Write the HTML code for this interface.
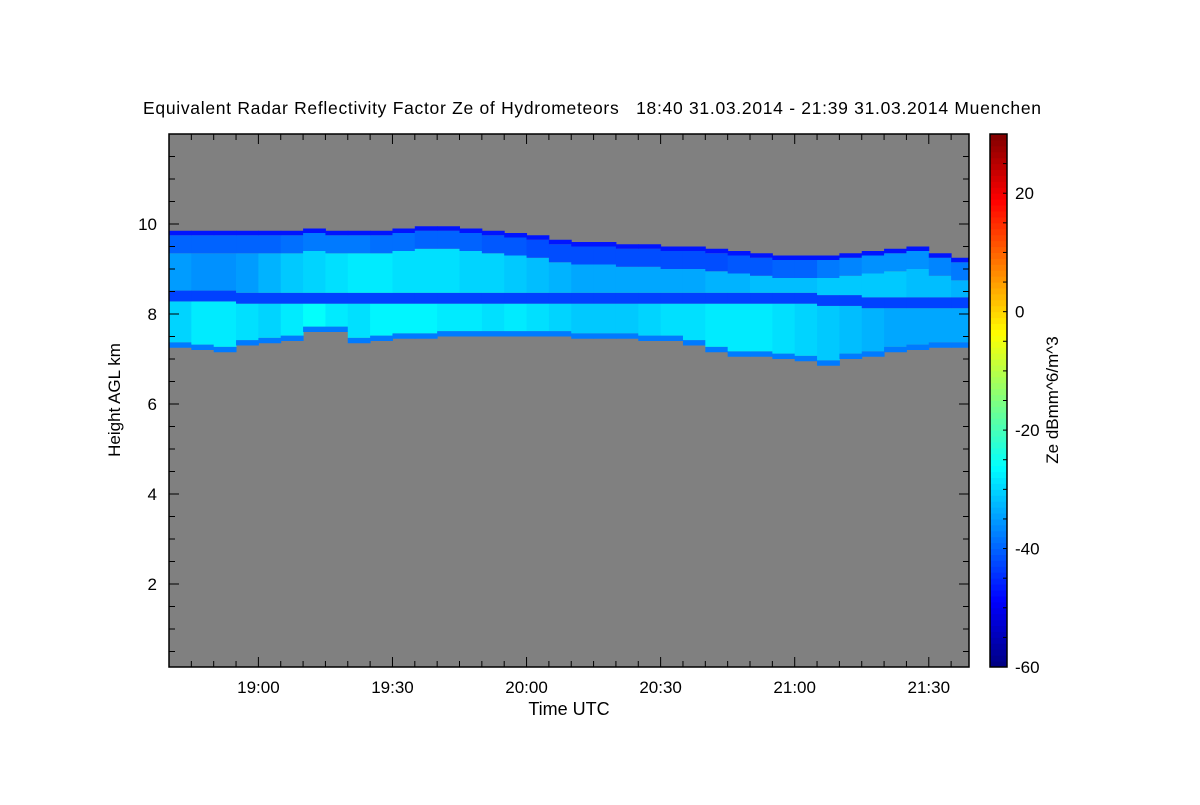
<!DOCTYPE html>
<html><head><meta charset="utf-8"><style>
body{margin:0;background:#fff;}
svg text{font-family:"Liberation Sans",sans-serif;fill:#000;}
</style></head><body>
<svg id="c" width="1200" height="800"></svg>
<script>
// data: per 5-minute column starting 18:40
const times = [];for(let i=0;i<36;i++)times.push(i*5);
const tops = [9.85,9.85,9.85,9.85,9.85,9.85,9.9,9.85,9.85,9.85,9.9,9.95,9.95,9.9,9.85,9.8,9.75,9.65,9.6,9.6,9.55,9.55,9.5,9.5,9.45,9.4,9.35,9.3,9.3,9.3,9.35,9.4,9.45,9.5,9.35,9.25];
const bottoms = [7.25,7.2,7.15,7.3,7.35,7.4,7.6,7.6,7.35,7.4,7.45,7.45,7.5,7.5,7.5,7.5,7.5,7.5,7.45,7.45,7.45,7.4,7.4,7.3,7.15,7.05,7.05,7.0,6.95,6.85,7.0,7.05,7.15,7.2,7.25,7.25];
const lowerZe = [-30,-28,-28,-29,-30,-28,-26,-28,-29,-27,-27,-27,-28,-28,-29,-28,-29,-30,-31,-31,-31,-30,-29,-29,-28,-28,-28,-29,-30,-31,-32,-33,-34,-34,-34,-34];
const bandH = [8.4,8.4,8.4,8.35,8.35,8.35,8.35,8.35,8.35,8.35,8.35,8.35,8.35,8.35,8.35,8.35,8.35,8.35,8.35,8.35,8.35,8.35,8.35,8.35,8.35,8.35,8.35,8.35,8.35,8.3,8.3,8.25,8.25,8.25,8.25,8.25];
const midZe = [-35,-36,-36,-35,-33,-31,-30,-29,-28,-28,-29,-29,-29,-30,-30,-31,-32,-33,-34,-34,-34,-34,-34,-34,-33,-33,-32,-32,-32,-31,-31,-31,-31,-32,-32,-33];
const topZe = [-40,-40,-40,-40,-40,-39,-38,-38,-38,-39,-39,-40,-40,-40,-41,-41,-42,-42,-42,-42,-42,-42,-42,-42,-42,-41,-41,-40,-40,-38,-37,-36,-36,-36,-37,-38];
const yTicks=[2,4,6,8,10];
const xTickLabels=["19:00","19:30","20:00","20:30","21:00","21:30"];
const xTickMins=[20,50,80,110,140,170];
const cbTicks=[-60,-40,-20,0,20];

const NS="http://www.w3.org/2000/svg";
const svg=document.getElementById('c');
function el(t,a,p){const e=document.createElementNS(NS,t);for(const k in a)e.setAttribute(k,a[k]);(p||svg).appendChild(e);return e;}
const L=169,R=969,T=134,B=667;
const xs=m=>L+m*(R-L)/179;
const ys=h=>674-h*45;
const cbs=v=>667-(v+60)*(667-134)/90;
function jet(v){let t=(v+60)/90;t=Math.max(0,Math.min(1,t));
 const f=x=>Math.max(0,Math.min(1,1.5-Math.abs(4*t-x)));
 const r=f(3),g=f(2),b=f(1);return `rgb(${Math.round(r*255)},${Math.round(g*255)},${Math.round(b*255)})`;}
let bg=el('rect',{x:L,y:T,width:R-L,height:B-T,fill:'#808080'});

const g=el('g',{});

for(let i=0;i<times.length;i++){
 const x0=xs(times[i]),x1=i<times.length-1?xs(times[i+1]):R;
 const layers=[[bottoms[i],bottoms[i]+0.12,-38],[bottoms[i]+0.12,bandH[i]-0.12,lowerZe[i]],[bandH[i]-0.12,bandH[i]+0.12,-43],[bandH[i]+0.12,tops[i]-0.5,midZe[i]],[tops[i]-0.5,tops[i]-0.1,topZe[i]],[tops[i]-0.1,tops[i],-47]];
 for(const [h0,h1,z] of layers){
  const r=el('rect',{x:x0,y:ys(h1),width:x1-x0+0.5,height:ys(h0)-ys(h1),fill:jet(z)},g);
  
  
 }
}
el('rect',{x:L,y:T,width:R-L,height:B-T,fill:'none',stroke:'#000','stroke-width':1.5});
for(let h=0.5;h<12;h+=0.5){const y=ys(h);if(y>B||y<T)continue;const big=Math.abs(h%2)<0.01;
 el('line',{x1:L,x2:L+(big?10:6),y1:y,y2:y,stroke:'#000'});el('line',{x1:R,x2:R-(big?10:6),y1:y,y2:y,stroke:'#000'});}
yTicks.forEach(v=>{const t=el('text',{x:L-12,y:ys(v)+6,'text-anchor':'end','font-size':17});t.textContent=v;
 });
for(let m=5;m<179;m+=5){const x=xs(m);const big=(m-20)%30===0;
 el('line',{x1:x,x2:x,y1:B,y2:B-(big?10:6),stroke:'#000'});el('line',{x1:x,x2:x,y1:T,y2:T+(big?10:6),stroke:'#000'});}
xTickLabels.forEach((s,i)=>{const t=el('text',{x:xs(xTickMins[i]),y:693,'text-anchor':'middle','font-size':17});t.textContent=s;
 });
let t=el('text',{x:569,y:715,'text-anchor':'middle','font-size':18});t.textContent='Time UTC';

t=el('text',{x:0,y:0,'text-anchor':'middle','font-size':17,transform:'translate(120,400) rotate(-90)'});t.textContent='Height AGL km';

t=el('text',{x:592,y:114,'text-anchor':'middle','font-size':17.5,textLength:898});t.textContent='Equivalent Radar Reflectivity Factor Ze of Hydrometeors   18:40 31.03.2014 - 21:39 31.03.2014 Muenchen';
t.style.whiteSpace='pre';

const cb=el('g',{});
for(let v=-60;v<30;v+=1){el('rect',{x:990,y:cbs(v+1),width:17,height:cbs(v)-cbs(v+1)+0.5,fill:jet(v+0.5)},cb);}
el('rect',{x:990,y:134,width:17,height:533,fill:'none',stroke:'#000','stroke-width':1.5},cb);
for(let v=-55;v<30;v+=5){const y=cbs(v);el('line',{x1:1007,x2:1003,y1:y,y2:y,stroke:'#000'},cb);}
cbTicks.forEach(v=>{const t=el('text',{x:1015,y:cbs(v)+6,'font-size':17},cb);t.textContent=v;
 });
t=el('text',{x:0,y:0,'text-anchor':'middle','font-size':17,transform:'translate(1058,400) rotate(-90)'});t.textContent='Ze dBmm^6/m^3';

</script>
</body></html>
